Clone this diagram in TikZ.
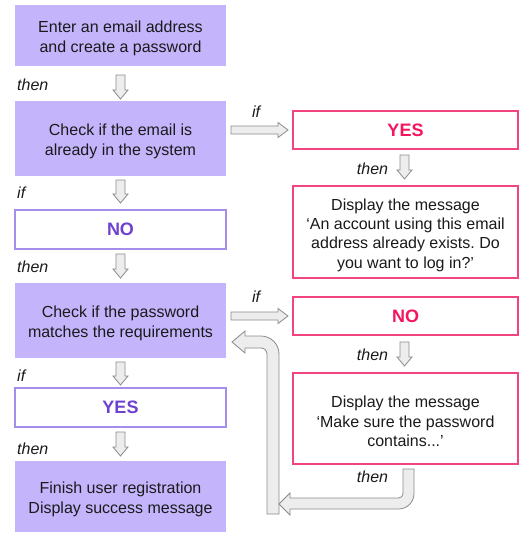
\documentclass[tikz,border=0pt]{standalone}
\usepackage{fontspec}
\setmainfont{Liberation Sans}
\frenchspacing
\definecolor{boxfill}{HTML}{C4B4FC}
\definecolor{purpline}{HTML}{A58DEB}
\definecolor{purptext}{HTML}{6E42CF}
\definecolor{pinkline}{HTML}{F2457D}
\definecolor{pinktext}{HTML}{F5145D}
\definecolor{agray}{HTML}{8A8A8A}
\definecolor{afill}{HTML}{EDEDED}
\definecolor{txt}{HTML}{1A1A1A}
% vertical block arrow: x, top y, bottom y (y grows downward)
\newcommand{\vblk}[3]{\path[blockarr] ({#1-4.5},#2) -- ({#1-4.5},{#3-9}) -- ({#1-7.5},{#3-9})
  -- (#1,#3) -- ({#1+7.5},{#3-9}) -- ({#1+4.5},{#3-9}) -- ({#1+4.5},#2) -- cycle;}
% horizontal block arrow: left x, right x, middle y
\newcommand{\hblk}[3]{\path[blockarr] (#1,{#3-4}) -- ({#2-10},{#3-4}) -- ({#2-10},{#3-7.5})
  -- (#2,#3) -- ({#2-10},{#3+7.5}) -- ({#2-10},{#3+4}) -- (#1,{#3+4}) -- cycle;}
\begin{document}
\begin{tikzpicture}[x=1pt,y=-1pt,
  every node/.style={text=txt},
  step box/.style={fill=boxfill, draw=none, inner sep=0pt},
  boxtext/.style={align=center, inner sep=0pt, yshift=-3pt, text=txt,
    font=\fontsize{16}{19.3}\selectfont\frenchspacing},
  purp box/.style={draw=purpline, line width=1.2pt, fill=white, inner sep=0pt,
    text=purptext, font=\fontsize{18}{20}\selectfont\bfseries},
  pink box/.style={draw=pinkline, line width=1.2pt, fill=white, inner sep=0pt,
    text=pinktext, font=\fontsize{18}{20}\selectfont\bfseries},
  msg box/.style={draw=pinkline, line width=1.2pt, fill=white, inner sep=0pt},
  lab/.style={font=\fontsize{16}{19}\selectfont\itshape, inner sep=0pt},
  blockarr/.style={draw=agray, fill=afill, line width=0.8pt, line join=miter}
]
\useasboundingbox (0,0) rectangle (531,538);

% left column
\node[step box, minimum width=211pt, minimum height=61pt,
  label={[boxtext]center:{Enter an email address\\and create a password}}] (b1) at (120.5,35.5) {};
\node[step box, minimum width=211pt, minimum height=75pt,
  label={[boxtext]center:{Check if the email is\\already in the system}}] (b2) at (120.5,138.5) {};
\node[purp box, minimum width=211pt, minimum height=39pt] (no1) at (120.5,229.5) {NO};
\node[step box, minimum width=211pt, minimum height=75pt,
  label={[boxtext]center:{Check if the password\\matches the requirements}}] (b3) at (120.5,320.5) {};
\node[purp box, minimum width=211pt, minimum height=39pt] (yes2) at (120.5,407.5) {YES};
\node[step box, minimum width=211pt, minimum height=71pt,
  label={[boxtext]center:{Finish user registration\\Display success message}}] (b4) at (120.5,496.5) {};

% right column
\node[pink box, minimum width=225pt, minimum height=38pt] (yes1) at (405.5,130) {YES};
\node[msg box, minimum width=225pt, minimum height=92pt,
  label={[boxtext]center:{Display the message\\‘An account using this email\\address already exists. Do\\you want to log in?’}}] (m1) at (405.5,232) {};
\node[pink box, minimum width=225pt, minimum height=38pt] (no2) at (405.5,316) {NO};
\node[msg box, minimum width=225pt, minimum height=91pt,
  label={[boxtext]center:{Display the message\\‘Make sure the password\\contains...’}}] (m2) at (405.5,418.5) {};

% straight block arrows
\vblk{120.5}{75}{99}
\vblk{120.5}{180}{203}
\vblk{120.5}{254}{278}
\vblk{120.5}{362}{385}
\vblk{120.5}{432}{456}
\vblk{404.5}{155}{179}
\vblk{404.5}{342}{366}
\hblk{231}{288}{130}
\hblk{231}{288}{316}

% loop back arrows
\path[blockarr] (267,514) -- (267,354) .. controls (267,350.7) and (264.3,348) .. (261,348)
  -- (245,348) -- (245,353) -- (232,342) -- (245,331) -- (245,336) -- (261,336)
  .. controls (270.9,336) and (279,344.1) .. (279,354) -- (279,514) -- cycle;
\path[blockarr] (403,469) -- (403,493.5) .. controls (403,496) and (401,498) .. (398.5,498)
  -- (290,498) -- (290,493) -- (279,504) -- (290,515) -- (290,509) -- (398.5,509)
  .. controls (407.1,509) and (414,502.1) .. (414,493.5) -- (414,469) -- cycle;

% labels
\node[lab, anchor=west] (t1) at (17,85) {then};
\node[lab, anchor=west] (i1) at (17,193) {if};
\node[lab, anchor=west] (t2) at (17,267) {then};
\node[lab, anchor=west] (i2) at (17,376) {if};
\node[lab, anchor=west] (t3) at (17,449) {then};
\node[lab] (i3) at (256,112) {if};
\node[lab] (i4) at (256,297) {if};
\node[lab] (t4) at (372.5,169) {then};
\node[lab] (t5) at (372.5,355) {then};
\node[lab] (t6) at (372.5,477) {then};
\end{tikzpicture}
\end{document}
